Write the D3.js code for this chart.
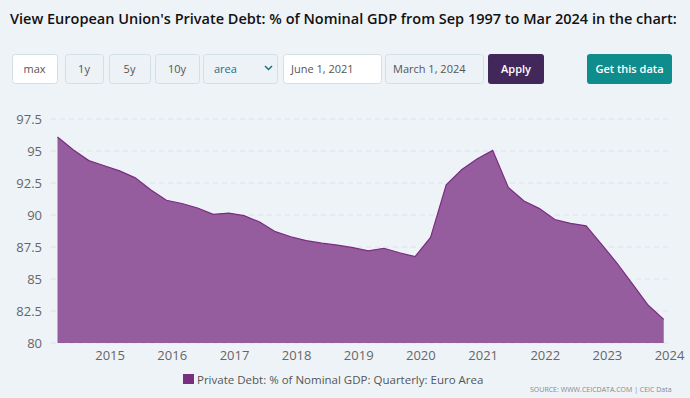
<!DOCTYPE html>
<html>
<head>
<meta charset="utf-8">
<script src="https://cdn.jsdelivr.net/npm/d3@7"></script>
<style>
  body { margin: 0; background: #eef3f8; }
  svg { display: block; font-family: "Open Sans", sans-serif; }
</style>
</head>
<body>
<svg id="chart" width="690" height="398"></svg>
<script>
// quarterly, Mar 2014 .. Dec 2023
const quarters = d3.range(40).map(i => new Date(2014, 2 + i * 3, 1))
const debt = [
  96.1, 95.1, 94.25, 93.85, 93.45, 92.9, 91.95, 91.15,
  90.9, 90.55, 90.05, 90.15, 89.95, 89.45, 88.7, 88.3,
  88.0, 87.8, 87.65, 87.45, 87.2, 87.4, 87.05, 86.75,
  88.25, 92.35, 93.55, 94.4, 95.05, 92.15, 91.1, 90.5,
  89.65, 89.35, 89.15, 87.7, 86.25, 84.6, 82.95, 81.85
]
const yTicks = [80, 82.5, 85, 87.5, 90, 92.5, 95, 97.5]
const xTicks = d3.range(2015, 2025).map(y => new Date(y, 0, 1))
const buttons = ['max', '1y', '5y', '10y']
const title = "View European Union's Private Debt: % of Nominal GDP from Sep 1997 to Mar 2024 in the chart:"
const seriesName = 'Private Debt: % of Nominal GDP: Quarterly: Euro Area'

var svg = d3.select('#chart')
var narrow = '"Liberation Sans Narrow", "Open Sans", sans-serif'

// shrink font size until the text fits the given width
function fit(sel, width) {
    var fs = +sel.attr('font-size')
    while (sel.node().getComputedTextLength() > width && fs > 5) {
        fs -= 0.25
        sel.attr('font-size', fs)
    }
}

var titleText = svg.append('text')
    .attr('x', 10)
    .attr('y', 24)
    .attr('font-family', narrow)
    .attr('font-size', 19)
    .attr('font-weight', 600)
    .attr('fill', '#111')
    .text(title)
fit(titleText, 667)

// control bar
var ctrl = svg.append('g')
var btnX = [[12, 57], [65, 103], [109, 150], [155, 199]]
buttons.forEach((b, i) => {
    ctrl.append('rect')
        .attr('x', btnX[i][0] + 0.5).attr('y', 54.5)
        .attr('width', btnX[i][1] - btnX[i][0]).attr('height', 29)
        .attr('rx', 3)
        .attr('fill', i == 0 ? '#fff' : '#edf2f6')
        .attr('stroke', '#d3dfe7')
    ctrl.append('text')
        .attr('x', (btnX[i][0] + btnX[i][1]) / 2).attr('y', 73)
        .attr('text-anchor', 'middle')
        .attr('font-size', 11).attr('fill', '#555')
        .text(b)
})
ctrl.append('rect')
    .attr('x', 203.5).attr('y', 54.5).attr('width', 74).attr('height', 29).attr('rx', 3)
    .attr('fill', '#edf2f6').attr('stroke', '#d3dfe7')
ctrl.append('text')
    .attr('x', 214).attr('y', 73).attr('font-size', 11).attr('fill', '#1b6f86')
    .text('area')
ctrl.append('path')
    .attr('d', 'M265,66 l3.5,3.5 l3.5,-3.5')
    .attr('fill', 'none').attr('stroke', '#1b6f86').attr('stroke-width', 1.5)

var dates = [['June 1, 2021', 283, 381, '#fff'], ['March 1, 2024', 385, 483, '#edf2f6']]
dates.forEach(d => {
    ctrl.append('rect')
        .attr('x', d[1] + 0.5).attr('y', 54.5).attr('width', d[2] - d[1]).attr('height', 29).attr('rx', 3)
        .attr('fill', d[3]).attr('stroke', '#d3dfe7')
    ctrl.append('text')
        .attr('x', d[1] + 8).attr('y', 73).attr('font-size', 11).attr('fill', '#555')
        .text(d[0])
})
ctrl.append('rect')
    .attr('x', 488).attr('y', 54).attr('width', 56).attr('height', 30).attr('rx', 3)
    .attr('fill', '#42285a')
ctrl.append('text')
    .attr('x', 516).attr('y', 73).attr('text-anchor', 'middle')
    .attr('font-size', 11).attr('font-weight', 600).attr('fill', '#fff')
    .text('Apply')
ctrl.append('rect')
    .attr('x', 587).attr('y', 54).attr('width', 85).attr('height', 30).attr('rx', 3)
    .attr('fill', '#0f8d8c')
ctrl.append('text')
    .attr('x', 629.5).attr('y', 73).attr('text-anchor', 'middle')
    .attr('font-size', 11).attr('font-weight', 600).attr('fill', '#fff')
    .text('Get this data')

// chart
var x = d3.scaleTime()
    .domain([new Date(2014, 2, 1), new Date(2024, 0, 1)])
    .range([57.5, 669])
var y = d3.scaleLinear()
    .domain([80, 97.5])
    .range([343, 119])

svg.append('g')
    .selectAll('line')
    .data(yTicks)
    .join('line')
        .attr('x1', 51).attr('x2', 669)
        .attr('y1', d => y(d)).attr('y2', d => y(d))
        .attr('stroke', '#dde3e8')
        .attr('stroke-dasharray', '5,4')

var yAxis = svg.append('g')
    .attr('transform', 'translate(42,0)')
    .call(d3.axisLeft(y).tickValues(yTicks).tickSize(0).tickPadding(0).tickFormat(d => d))
yAxis.select('.domain').remove()
yAxis.selectAll('text').attr('font-size', 13).attr('fill', '#666').attr('font-family', 'Open Sans')

var xAxis = svg.append('g')
    .attr('transform', 'translate(0,347)')
    .call(d3.axisBottom(x).tickValues(xTicks).tickSize(0).tickPadding(4).tickFormat(d3.timeFormat('%Y')))
xAxis.select('.domain').remove()
xAxis.selectAll('text').attr('font-size', 13).attr('fill', '#666').attr('font-family', 'Open Sans')

var pts = quarters.map((d, i) => [d, debt[i]])
svg.append('path')
    .datum(pts)
    .attr('fill', '#955d9e')
    .attr('d', d3.area().x(d => x(d[0])).y0(y(80)).y1(d => y(d[1])))
svg.append('path')
    .datum(pts)
    .attr('fill', 'none')
    .attr('stroke', '#7a2c82')
    .attr('stroke-width', 1.2)
    .attr('d', d3.line().x(d => x(d[0])).y(d => y(d[1])))

// legend + source
svg.append('rect')
    .attr('x', 183).attr('y', 374).attr('width', 11).attr('height', 10)
    .attr('fill', '#7a2e80')
svg.append('text')
    .attr('x', 197).attr('y', 383.5)
    .attr('font-size', 11.5).attr('fill', '#555')
    .text(seriesName)
var source = svg.append('text')
    .attr('x', 530).attr('y', 392)
    .attr('font-family', narrow)
    .attr('font-size', 9.5).attr('fill', '#888')
    .text('SOURCE: WWW.CEICDATA.COM | CEIC Data')
fit(source, 144)
</script>
</body>
</html>
